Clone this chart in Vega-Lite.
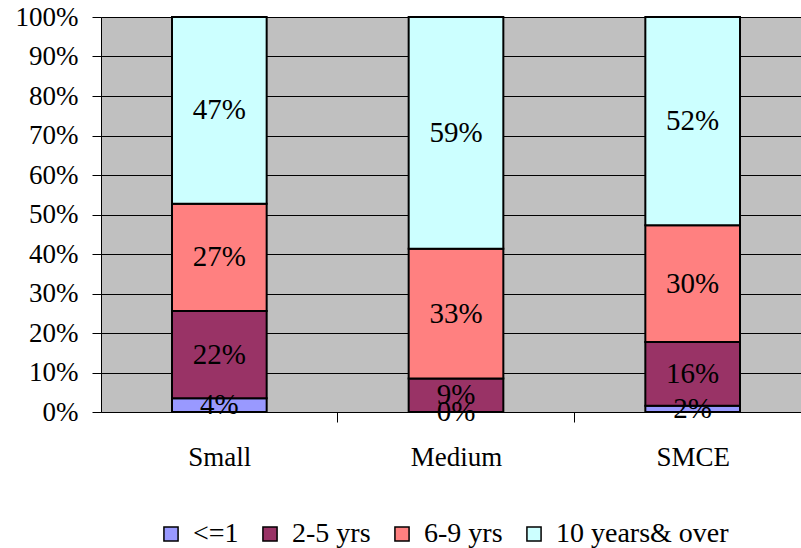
{
  "$schema": "https://vega.github.io/schema/vega-lite/v6.json",
  "width": 710,
  "height": 395,
  "autosize": {"type": "none"},
  "padding": {"left": 101, "top": 17, "right": 0, "bottom": 136},
  "background": "white",
  "config": {
    "font": "Liberation Serif",
    "view": {"fill": "#C0C0C0", "stroke": null},
    "axis": {"labelFont": "Liberation Serif", "labelFontSize": 27, "labelColor": "black"},
    "legend": {"labelFont": "Liberation Serif", "labelFontSize": 28, "labelColor": "black", "labelLimit": 400},
    "text": {"font": "Liberation Serif", "fontSize": 29}
  },
  "data": {
    "values": [
      {"category": "Small", "group": "<=1", "order": 1, "value": 3.5, "label": "4%"},
      {"category": "Small", "group": "2-5 yrs", "order": 2, "value": 22.1, "label": "22%"},
      {"category": "Small", "group": "6-9 yrs", "order": 3, "value": 27.1, "label": "27%"},
      {"category": "Small", "group": "10 years& over", "order": 4, "value": 47.3, "label": "47%"},
      {"category": "Medium", "group": "<=1", "order": 1, "value": 0, "label": "0%"},
      {"category": "Medium", "group": "2-5 yrs", "order": 2, "value": 8.5, "label": "9%"},
      {"category": "Medium", "group": "6-9 yrs", "order": 3, "value": 32.8, "label": "33%"},
      {"category": "Medium", "group": "10 years& over", "order": 4, "value": 58.7, "label": "59%"},
      {"category": "SMCE", "group": "<=1", "order": 1, "value": 1.6, "label": "2%"},
      {"category": "SMCE", "group": "2-5 yrs", "order": 2, "value": 16.1, "label": "16%"},
      {"category": "SMCE", "group": "6-9 yrs", "order": 3, "value": 29.6, "label": "30%"},
      {"category": "SMCE", "group": "10 years& over", "order": 4, "value": 52.7, "label": "52%"}
    ]
  },
  "transform": [
    {"stack": "value", "groupby": ["category"], "sort": [{"field": "order"}], "as": ["y0", "y1"]},
    {"calculate": "(datum.y0 + datum.y1) / 2", "as": "mid"}
  ],
  "encoding": {
    "x": {
      "field": "category",
      "type": "nominal",
      "sort": ["Small", "Medium", "SMCE"],
      "scale": {"paddingInner": 0.6, "paddingOuter": 0.3},
      "axis": {
        "title": null,
        "labelAngle": 0,
        "labelPadding": 22,
        "tickOffset": 118,
        "labelOffset": -118,
        "tickSize": 10,
        "tickColor": "black",
        "domainColor": "black",
        "domainWidth": 1,
        "grid": false
      }
    }
  },
  "layer": [
    {
      "mark": {"type": "bar", "stroke": "black", "strokeWidth": 2},
      "encoding": {
        "y": {
          "field": "y0",
          "type": "quantitative",
          "scale": {"domain": [0, 100], "nice": false},
          "axis": {
            "title": null,
            "values": [0, 10, 20, 30, 40, 50, 60, 70, 80, 90, 100],
            "labelExpr": "datum.value + '%'",
            "labelOverlap": false,
            "labelPadding": 14,
            "tickSize": 9,
            "tickColor": "black",
            "domainColor": "black",
            "grid": true,
            "gridColor": "black",
            "gridWidth": 1,
            "gridOpacity": 1
          }
        },
        "y2": {"field": "y1"},
        "color": {
          "field": "group",
          "type": "nominal",
          "sort": ["<=1", "2-5 yrs", "6-9 yrs", "10 years& over"],
          "scale": {
            "domain": ["<=1", "2-5 yrs", "6-9 yrs", "10 years& over"],
            "range": ["#9999FF", "#993366", "#FF8080", "#CCFFFF"]
          },
          "legend": {
            "title": null,
            "orient": "none",
            "direction": "horizontal",
            "legendX": 56,
            "legendY": 503,
            "symbolType": "square",
            "symbolSize": 200,
            "symbolStrokeColor": "black",
            "symbolStrokeWidth": 1.5,
            "symbolOpacity": 1,
            "labelOffset": 8,
            "columnPadding": 17
          }
        },
        "order": {"field": "order", "type": "quantitative"}
      }
    },
    {
      "mark": {"type": "text", "color": "black", "baseline": "middle", "align": "center"},
      "encoding": {
        "y": {
          "field": "mid",
          "type": "quantitative",
          "axis": {
            "title": null,
            "values": [0, 10, 20, 30, 40, 50, 60, 70, 80, 90, 100],
            "labelExpr": "datum.value + '%'",
            "labelOverlap": false,
            "labelPadding": 14,
            "tickSize": 9,
            "tickColor": "black",
            "domainColor": "black",
            "grid": true,
            "gridColor": "black",
            "gridWidth": 1,
            "gridOpacity": 1
          }
        },
        "text": {"field": "label"}
      }
    }
  ]
}
